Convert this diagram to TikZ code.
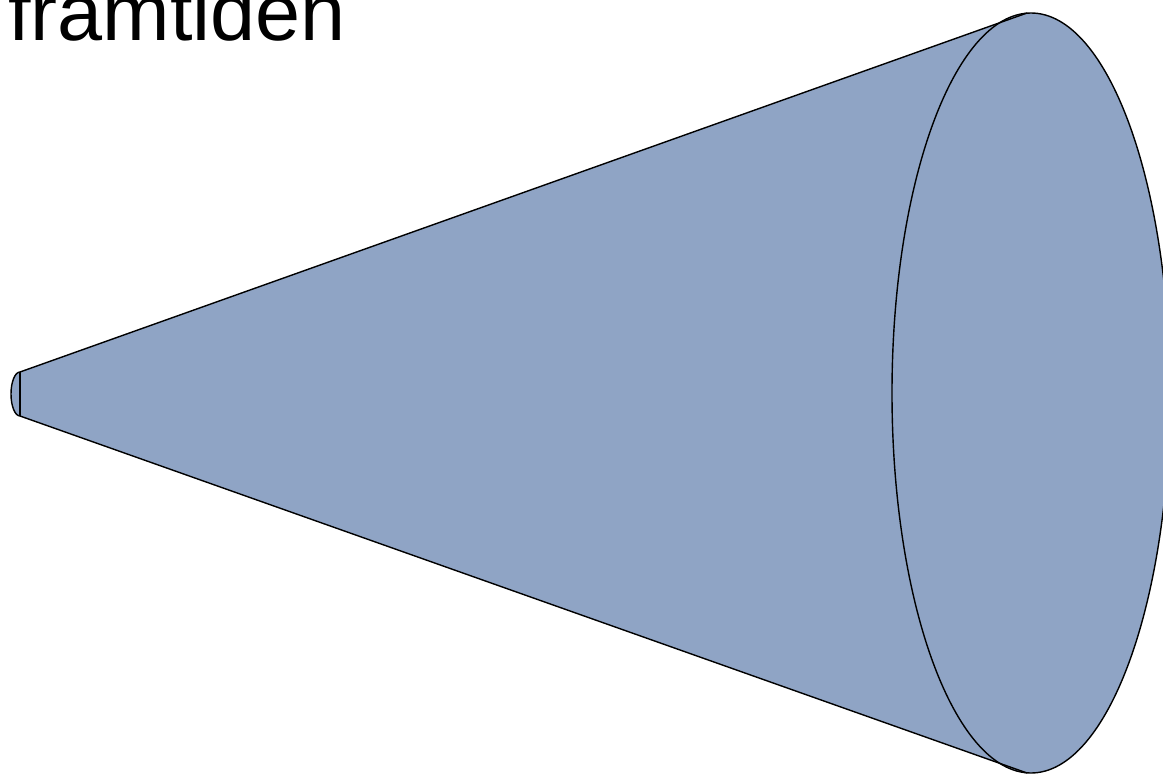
\documentclass[tikz,border=0pt]{standalone}
\usepackage{fontspec}
\setmainfont{Liberation Sans}
\definecolor{conefill}{RGB}{143,164,197}
\begin{document}
\begin{tikzpicture}[x=1pt,y=-1pt,
  outline/.style={draw=black,line width=1.4pt,line join=round},
  label/.style={inner sep=0pt,anchor=base west,font=\fontsize{81}{90}\selectfont}]
\useasboundingbox (0,0) rectangle (1163,776);
\begin{scope}
\clip (0,0) rectangle (1163,776);
% cone body
\coordinate (apexT) at (20,372);
\coordinate (apexB) at (20,416);
\coordinate (baseT) at (1027,13);
\coordinate (baseB) at (1027,773);
\fill[conefill] (apexT) -- (baseT) -- (baseB) -- (apexB) -- cycle;
\fill[conefill] (1031,393) ellipse [x radius=139, y radius=380];
\fill[conefill] (20,394) ellipse [x radius=9, y radius=22];
% outlines
\draw[outline] (apexT) -- (baseT);
\draw[outline] (apexB) -- (baseB);
\draw[outline] (1031,393) ellipse [x radius=139, y radius=380];
\draw[outline] (apexT) arc [start angle=270, end angle=90, x radius=9, y radius=22];
\draw[outline] (apexT) -- (apexB);
\end{scope}
\node[label] (title) at (8,41) {framtiden};
\end{tikzpicture}
\end{document}
